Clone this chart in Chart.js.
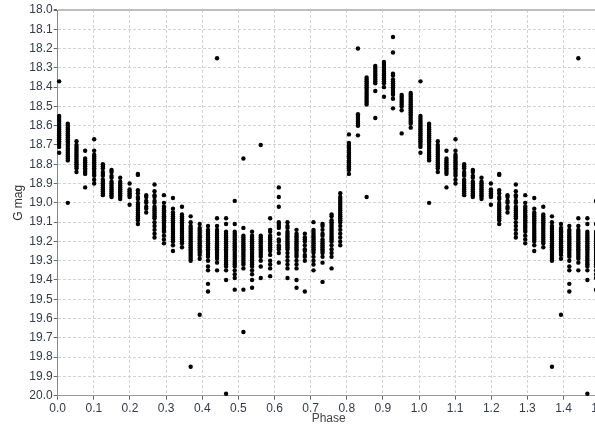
<!DOCTYPE html>
<html lang="en">
<head>
  <meta charset="UTF-8" />
  <title>G mag vs Phase</title>
  <script src="https://cdn.jsdelivr.net/npm/chart.js"></script>
  <style>
    html, body {
      margin: 0;
      padding: 0;
      background: #fff;
      overflow: hidden;
    }
    #wrap {
      width: 610px;
      height: 428px;
    }
  </style>
</head>
<body>
  <div id="wrap"><canvas id="lc"></canvas></div>

  <script>
    // phase of each observation group (one cycle, 0..1)
    const phases = [
      0.004, 0.028, 0.052, 0.076, 0.101, 0.125, 0.149, 0.173, 0.199, 0.222,
      0.245, 0.268, 0.294, 0.319, 0.344, 0.368, 0.393, 0.416, 0.441, 0.466,
      0.490, 0.514, 0.538, 0.562, 0.588, 0.612, 0.636, 0.661, 0.684, 0.708,
      0.733, 0.758, 0.782, 0.806, 0.831, 0.855, 0.879, 0.903, 0.928, 0.952,
      0.977
    ];

    // G magnitudes
    const mags = [
      [18.37, 18.55, 18.56, 18.57, 18.58, 18.59, 18.60, 18.61, 18.62, 18.63, 18.64, 18.65, 18.66, 18.67, 18.68, 18.69, 18.70, 18.71, 18.74],
      [18.59, 18.60, 18.61, 18.62, 18.63, 18.64, 18.65, 18.66, 18.67, 18.68, 18.69, 18.70, 18.71, 18.72, 18.73, 18.74, 18.75, 18.76, 18.77, 18.78, 19.00],
      [18.68, 18.70, 18.71, 18.72, 18.73, 18.74, 18.75, 18.76, 18.77, 18.78, 18.79, 18.80, 18.81, 18.82, 18.84],
      [18.73, 18.77, 18.78, 18.79, 18.80, 18.81, 18.82, 18.83, 18.84, 18.85, 18.92],
      [18.67, 18.73, 18.75, 18.76, 18.77, 18.78, 18.79, 18.80, 18.81, 18.82, 18.83, 18.84, 18.85, 18.86, 18.88, 18.90],
      [18.80, 18.81, 18.82, 18.84, 18.85, 18.86, 18.88, 18.89, 18.90, 18.91, 18.92, 18.93, 18.94, 18.95, 18.96],
      [18.83, 18.84, 18.86, 18.87, 18.89, 18.90, 18.91, 18.92, 18.93, 18.94, 18.95, 18.96, 18.97],
      [18.87, 18.89, 18.90, 18.91, 18.92, 18.93, 18.94, 18.95, 18.96, 18.97, 18.98],
      [18.90, 18.93, 18.94, 18.95, 18.96, 18.97, 19.01],
      [18.85, 18.855, 18.935, 18.95, 18.97, 18.98, 19.00, 19.01, 19.02, 19.03, 19.04, 19.05, 19.06, 19.07, 19.08, 19.09, 19.11],
      [18.96, 18.97, 18.99, 19.00, 19.02, 19.03, 19.05],
      [18.905, 18.94, 18.96, 18.97, 18.99, 19.00, 19.02, 19.03, 19.04, 19.05, 19.06, 19.07, 19.08, 19.10, 19.12, 19.14, 19.16, 19.18],
      [18.96, 19.00, 19.02, 19.03, 19.04, 19.05, 19.06, 19.07, 19.08, 19.09, 19.10, 19.11, 19.12, 19.13, 19.14, 19.15, 19.17, 19.19, 19.21],
      [18.975, 19.03, 19.05, 19.06, 19.07, 19.08, 19.09, 19.10, 19.11, 19.12, 19.13, 19.14, 19.15, 19.16, 19.17, 19.18, 19.19, 19.20, 19.22, 19.25],
      [19.02, 19.06, 19.07, 19.08, 19.09, 19.10, 19.11, 19.12, 19.13, 19.14, 19.15, 19.16, 19.17, 19.18, 19.19, 19.20, 19.21, 19.23],
      [19.07, 19.10, 19.12, 19.13, 19.14, 19.15, 19.16, 19.17, 19.18, 19.19, 19.20, 19.21, 19.22, 19.23, 19.24, 19.25, 19.26, 19.27, 19.28, 19.29, 19.30, 19.85],
      [19.11, 19.13, 19.14, 19.15, 19.16, 19.17, 19.18, 19.19, 19.20, 19.21, 19.22, 19.23, 19.24, 19.25, 19.26, 19.27, 19.29, 19.58],
      [19.12, 19.14, 19.15, 19.16, 19.17, 19.18, 19.19, 19.20, 19.21, 19.22, 19.23, 19.24, 19.25, 19.26, 19.27, 19.28, 19.30, 19.33, 19.35, 19.42, 19.46],
      [18.25, 19.08, 19.12, 19.14, 19.15, 19.16, 19.17, 19.18, 19.19, 19.20, 19.21, 19.22, 19.23, 19.24, 19.25, 19.26, 19.27, 19.28, 19.29, 19.31, 19.35],
      [19.08, 19.11, 19.15, 19.16, 19.17, 19.18, 19.19, 19.20, 19.21, 19.22, 19.23, 19.24, 19.25, 19.26, 19.27, 19.28, 19.29, 19.30, 19.31, 19.32, 19.33, 19.35, 19.40, 19.99],
      [18.99, 19.11, 19.15, 19.16, 19.17, 19.18, 19.19, 19.20, 19.21, 19.22, 19.23, 19.24, 19.25, 19.26, 19.27, 19.28, 19.29, 19.30, 19.31, 19.32, 19.33, 19.35, 19.37, 19.39, 19.45],
      [18.77, 19.13, 19.17, 19.18, 19.19, 19.20, 19.21, 19.22, 19.23, 19.24, 19.25, 19.26, 19.27, 19.28, 19.29, 19.30, 19.31, 19.32, 19.34, 19.45, 19.67],
      [19.15, 19.17, 19.18, 19.19, 19.20, 19.21, 19.22, 19.23, 19.24, 19.25, 19.26, 19.27, 19.28, 19.29, 19.30, 19.31, 19.32, 19.33, 19.35, 19.37, 19.40, 19.44],
      [18.70, 19.17, 19.18, 19.19, 19.20, 19.21, 19.22, 19.23, 19.24, 19.25, 19.26, 19.27, 19.28, 19.30, 19.33, 19.39],
      [19.08, 19.14, 19.15, 19.17, 19.18, 19.19, 19.20, 19.21, 19.22, 19.23, 19.24, 19.25, 19.27, 19.30, 19.32, 19.34, 19.38],
      [18.92, 18.97, 19.02, 19.10, 19.11, 19.12, 19.13, 19.16, 19.19, 19.20, 19.22, 19.23, 19.24, 19.26, 19.31],
      [19.10, 19.12, 19.13, 19.15, 19.16, 19.17, 19.18, 19.19, 19.20, 19.21, 19.22, 19.23, 19.24, 19.26, 19.28, 19.30, 19.32, 19.34, 19.39],
      [19.14, 19.16, 19.17, 19.18, 19.19, 19.20, 19.21, 19.22, 19.23, 19.24, 19.25, 19.26, 19.27, 19.28, 19.30, 19.32, 19.34, 19.40, 19.44],
      [19.16, 19.18, 19.19, 19.20, 19.22, 19.24, 19.25, 19.27, 19.28, 19.30, 19.46],
      [19.10, 19.14, 19.15, 19.16, 19.17, 19.18, 19.19, 19.20, 19.21, 19.22, 19.23, 19.24, 19.25, 19.26, 19.28, 19.30, 19.32, 19.35],
      [19.11, 19.12, 19.14, 19.16, 19.17, 19.19, 19.20, 19.21, 19.22, 19.23, 19.24, 19.25, 19.26, 19.28, 19.31, 19.41],
      [19.06, 19.07, 19.09, 19.10, 19.11, 19.12, 19.13, 19.14, 19.15, 19.16, 19.17, 19.18, 19.19, 19.20, 19.22, 19.24, 19.26, 19.28, 19.34],
      [18.95, 18.97, 18.98, 18.99, 19.00, 19.01, 19.02, 19.03, 19.04, 19.05, 19.06, 19.07, 19.08, 19.09, 19.10, 19.12, 19.14, 19.16, 19.18, 19.20, 19.22],
      [18.645, 18.69, 18.70, 18.71, 18.72, 18.73, 18.74, 18.75, 18.76, 18.77, 18.78, 18.79, 18.80, 18.81, 18.82, 18.83, 18.85],
      [18.20, 18.54, 18.55, 18.56, 18.57, 18.58, 18.59, 18.60, 18.65],
      [18.35, 18.36, 18.37, 18.38, 18.39, 18.40, 18.41, 18.42, 18.43, 18.44, 18.45, 18.46, 18.47, 18.48, 18.49, 18.97],
      [18.29, 18.30, 18.31, 18.32, 18.33, 18.34, 18.35, 18.36, 18.37, 18.38, 18.42, 18.56],
      [18.27, 18.28, 18.29, 18.30, 18.31, 18.32, 18.33, 18.34, 18.35, 18.36, 18.37, 18.38, 18.40, 18.45],
      [18.14, 18.22, 18.33, 18.34, 18.36, 18.37, 18.38, 18.39, 18.40, 18.41, 18.42, 18.43, 18.44, 18.46, 18.51],
      [18.44, 18.45, 18.46, 18.47, 18.48, 18.49, 18.50, 18.52, 18.64],
      [18.43, 18.44, 18.45, 18.46, 18.47, 18.48, 18.49, 18.50, 18.51, 18.52, 18.53, 18.54, 18.55, 18.56, 18.57, 18.58, 18.59, 18.61]
    ];

    const xTicks = [0.0, 0.1, 0.2, 0.3, 0.4, 0.5, 0.6, 0.7, 0.8, 0.9, 1.0, 1.1, 1.2, 1.3, 1.4, 1.5];
    const yTicks = [18.0, 18.1, 18.2, 18.3, 18.4, 18.5, 18.6, 18.7, 18.8, 18.9, 19.0, 19.1, 19.2, 19.3, 19.4, 19.5, 19.6, 19.7, 19.8, 19.9, 20.0];

    // the plot shows one and a half cycles: first half cycle is repeated after phase 1
    const points = [];
    phases.forEach((p, i) => {
      mags[i].forEach(m => {
        points.push({ x: p, y: m });
        if (p < 0.5) points.push({ x: p + 1, y: m });
      });
    });

    const tickFont = { family: "'Liberation Sans', Arial, sans-serif", size: 12 };
    const tickColor = '#333a48';
    const gridColor = '#d2d2d2';

    new Chart(document.getElementById('lc'), {
      type: 'scatter',
      data: {
        datasets: [{
          data: points,
          backgroundColor: '#000',
          borderWidth: 0,
          pointRadius: 2.2,
          pointHoverRadius: 2.2,
          clip: false
        }]
      },
      options: {
        responsive: true,
        maintainAspectRatio: false,
        animation: false,
        layout: { padding: { top: 10, left: 0, right: 0, bottom: 0 } },
        plugins: {
          legend: { display: false },
          tooltip: { enabled: false }
        },
        scales: {
          x: {
            type: 'linear',
            min: xTicks[0],
            max: xTicks[xTicks.length - 1],
            afterBuildTicks: s => { s.ticks = xTicks.map(v => ({ value: v })); },
            afterFit: s => { s.height = 32.3; },
            ticks: {
              font: tickFont,
              color: tickColor,
              padding: 2,
              maxRotation: 0,
              autoSkip: false,
              callback: v => v.toFixed(1)
            },
            grid: {
              color: gridColor,
              tickColor: '#666',
              tickLength: 4,
              tickBorderDash: []
            },
            border: { color: '#999', dash: [3, 2] },
            title: {
              display: true,
              text: 'Phase',
              font: { family: "'Liberation Sans', Arial, sans-serif", size: 12 },
              color: '#444',
              padding: { top: 0, bottom: 2 }
            }
          },
          y: {
            type: 'linear',
            reverse: true,
            min: yTicks[0],
            max: yTicks[yTicks.length - 1],
            afterBuildTicks: s => { s.ticks = yTicks.map(v => ({ value: v })); },
            afterFit: s => { s.width = 57.7; },
            ticks: {
              font: tickFont,
              color: tickColor,
              padding: 1,
              autoSkip: false,
              callback: v => v.toFixed(1)
            },
            grid: {
              color: c => (c.tick && c.tick.value === 18) ? '#bdbdbd' : gridColor,
              lineWidth: c => (c.tick && c.tick.value === 18) ? 2 : 1,
              tickColor: '#666',
              tickLength: 4,
              tickBorderDash: []
            },
            border: {
              color: '#888',
              dash: c => (c.tick && c.tick.value === 18) ? [] : [3, 2]
            },
            title: {
              display: true,
              text: 'G mag',
              font: { family: "'Liberation Sans', Arial, sans-serif", size: 12 },
              color: '#333',
              padding: { top: 11, bottom: 0 }
            }
          }
        }
      }
    });
  </script>
</body>
</html>
